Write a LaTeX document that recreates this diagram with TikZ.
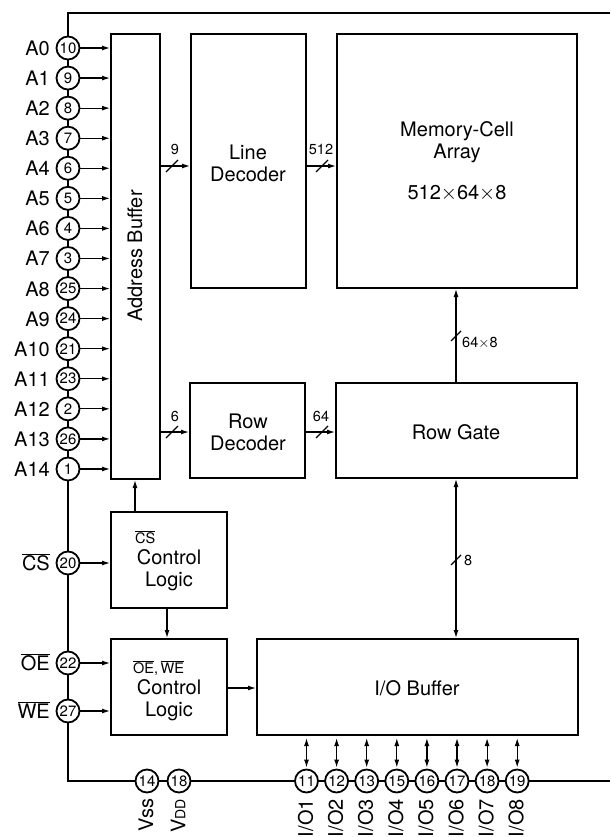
\documentclass[tikz,border=0pt]{standalone}
\usepackage{fontspec}
\setmainfont{TeX Gyre Heros}
\usetikzlibrary{arrows.meta,fit}
\newcommand\ovl[1]{$\overline{\hbox{#1}}$}
\begin{document}
\begin{tikzpicture}[x=1pt,y=-1pt,
  outline/.style={line width=2.6pt},
  box/.style={draw, line width=2pt, inner sep=0pt},
  pin/.style={circle, draw, fill=white, line width=1.8pt, minimum size=23pt, inner sep=0pt, font=\fontsize{15}{15}\selectfont},
  lbl/.style={font=\fontsize{20}{22}\selectfont, inner sep=0pt},
  txt/.style={font=\fontsize{20}{22}\selectfont, align=center, inner sep=0pt},
  small/.style={font=\fontsize{14.5}{14.5}\selectfont, inner sep=0pt},
  sig/.style={line width=1.2pt, -{Latex[length=8pt,width=5pt]}},
  dsig/.style={line width=1.2pt, {Latex[length=8pt,width=5pt]}-{Latex[length=8pt,width=5pt]}},
  slashmark/.style={line width=1.2pt}]
\useasboundingbox (0,0) rectangle (610,837);
% chip outline
\draw[outline] (610,13) -- (68,13) -- (68,781) -- (610,781);
% boxes
\node[box, fit={(111,34) (160,479)}] (ab) {};
\node[box, fit={(191,34) (306,288)}] (ld) {};
\node[box, fit={(337,34) (577,288)}] (mem) {};
\node[box, fit={(190,383) (305,478)}] (rd) {};
\node[box, fit={(336,383) (577,478)}] (rg) {};
\node[box, fit={(111,512) (227,608)}] (csl) {};
\node[box, fit={(111,639) (227,735)}] (oel) {};
\node[box, fit={(257,639) (578,735)}] (io) {};
% box texts
\node[txt, rotate=90] (abt) at (135,256) {Address Buffer};
\node[txt] (ldt) at (248,163) {Line\\Decoder};
\node[txt] (memt) at (457,142) {Memory-Cell\\Array};
\node[txt] (memn) at (457,193) {512$\times$64$\times$8};
\node[txt] (rdt) at (248,432) {Row\\Decoder};
\node[txt] (rgt) at (456,432) {Row Gate};
\node[txt] (iot) at (417,688) {I/O Buffer};
\node[small, anchor=base west] (cst) at (135,543) {\ovl{CS}};
\node[txt] (cslt) at (169,570) {Control\\Logic};
\node[small, anchor=base west] (oet) at (133,673) {\ovl{OE},\,\ovl{WE}};
\node[txt] (oelt) at (169,700) {Control\\Logic};
% address pins
\foreach \lab/\num [count=\i from 0] in {A0/10,A1/9,A2/8,A3/7,A4/6,A5/5,A6/4,A7/3,A8/25,A9/24,A10/21,A11/23,A12/2,A13/26,A14/1}{
  \node[pin] (p\i) at (68,{48+30.07*\i}) {\num};
  \node[lbl, anchor=base east] (l\i) at (50,{55.5+30.07*\i}) {\lab};
  \draw[sig] (p\i) -- (p\i -| ab.west);
}
% control pins
\node[pin] (pcs) at (68,563) {20};
\node[lbl, anchor=base east] (lcs) at (50,570.5) {\ovl{CS}};
\draw[sig] (pcs) -- (pcs -| csl.west);
\node[pin] (poe) at (68,663) {22};
\node[lbl, anchor=base east] (loe) at (50,670.5) {\ovl{OE}};
\draw[sig] (poe) -- (poe -| oel.west);
\node[pin] (pwe) at (68,711) {27};
\node[lbl, anchor=base east] (lwe) at (50,718.5) {\ovl{WE}};
\draw[sig] (pwe) -- (pwe -| oel.west);
% buses
\coordinate (yb1) at (0,166);
\coordinate (yb2) at (0,432);
\coordinate (s1) at (172,166);
\coordinate (s2) at (322,166);
\coordinate (s3) at (172,432);
\coordinate (s4) at (322,432);
\coordinate (s5) at (456,336);
\coordinate (s6) at (456,560);
\draw[sig] (ab.east |- yb1) -- (ld.west |- yb1);
\draw[sig] (ld.east |- yb1) -- (mem.west |- yb1);
\draw[sig] (ab.east |- yb2) -- (rd.west |- yb2);
\draw[sig] (rd.east |- yb2) -- (rg.west |- yb2);
\draw[sig] (s5 |- rg.north) -- (s5 |- mem.south);
\draw[dsig] (s6 |- rg.south) -- (s6 |- io.north);
\foreach \s in {s1,s2,s3,s4}{
  \draw[slashmark] ([shift={(-6,6)}]\s) -- ([shift={(6,-6)}]\s);
}
\foreach \s in {s5,s6}{
  \draw[slashmark] ([shift={(-5,5)}]\s) -- ([shift={(5,-5)}]\s);
}
\node[small, anchor=base] (b1) at (175,155) {9};
\node[small, anchor=base] (b2) at (321,155) {512};
\node[small, anchor=base] (b3) at (175,421) {6};
\node[small, anchor=base] (b4) at (321,421) {64};
\node[small, anchor=west] (b5) at (462,343) {64$\times$8};
\node[small, anchor=west] (b6) at (464,560) {8};
% control arrows
\coordinate (xc1) at (135,0);
\coordinate (xc2) at (167,0);
\coordinate (yc3) at (0,688);
\draw[sig] (xc1 |- csl.north) -- (xc1 |- ab.south);
\draw[sig] (xc2 |- csl.south) -- (xc2 |- oel.north);
\draw[sig] (oel.east |- yc3) -- (io.west |- yc3);
% power pins
\node[pin] (vss) at (147,781) {14};
\node[pin] (vdd) at (179,781) {18};
\node[lbl, rotate=90, anchor=east] (lvss) at (146,798) {Vss};
\node[lbl, rotate=90, anchor=east] (lvdd) at (178,799) {V{\fontsize{14}{14}\selectfont DD}};
% I/O pins
\foreach \num/\k [count=\j from 0] in {11/1,12/2,13/3,15/4,16/5,17/6,18/7,19/8}{
  \node[pin] (q\j) at ({306.5+30.1*\j},781) {\num};
  \node[lbl, rotate=90, anchor=east] (lq\j) at ({305.5+30.1*\j},799) {I/O\k};
  \draw[dsig, shorten <=2pt, shorten >=1pt] (q\j |- io.south) -- (q\j);
}
\end{tikzpicture}
\end{document}
